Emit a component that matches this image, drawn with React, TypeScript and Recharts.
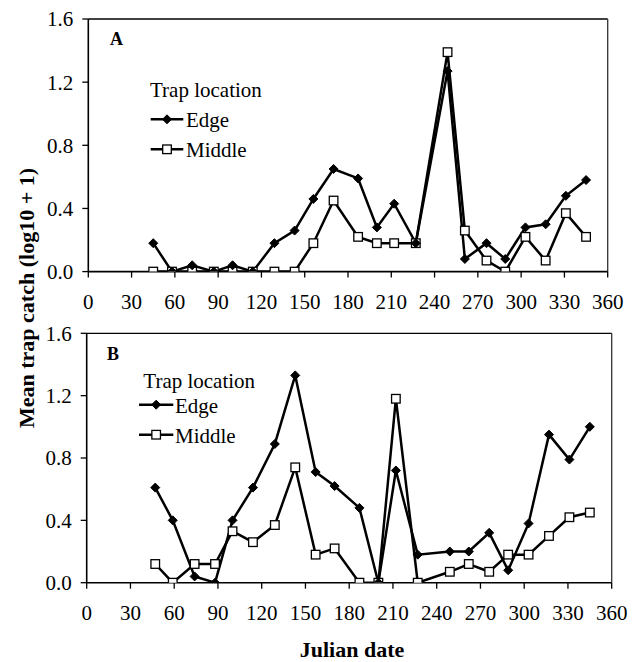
import React from "react";
import { LineChart, Line, XAxis, YAxis, ReferenceLine, Legend } from "recharts";

const daysA = [45, 58, 72, 87, 100, 114, 129, 143, 156, 170, 187, 200, 212, 227, 249, 261, 276, 289, 303, 317, 331, 345];
const edgeA = [0.18, 0, 0.04, 0, 0.04, 0, 0.18, 0.26, 0.46, 0.65, 0.59, 0.28, 0.43, 0.18, 1.27, 0.08, 0.18, 0.08, 0.28, 0.3, 0.48, 0.58];
const middleA = [0, 0, 0, 0, 0, 0, 0, 0, 0.18, 0.45, 0.22, 0.18, 0.18, 0.18, 1.39, 0.26, 0.07, 0, 0.22, 0.07, 0.37, 0.22];

const daysB = [47, 59, 74, 88, 100, 114, 129, 143, 157, 170, 187, 200, 212, 227, 249, 262, 276, 289, 303, 317, 331, 345];
const edgeB = [0.61, 0.4, 0.04, 0, 0.4, 0.61, 0.89, 1.33, 0.71, 0.62, 0.48, 0, 0.72, 0.18, 0.2, 0.2, 0.32, 0.08, 0.38, 0.95, 0.79, 1.0];
const middleB = [0.12, 0, 0.12, 0.12, 0.33, 0.26, 0.37, 0.74, 0.18, 0.22, 0, 0, 1.18, 0, 0.07, 0.12, 0.07, 0.18, 0.18, 0.3, 0.42, 0.45];

const xTicks = [0, 30, 60, 90, 120, 150, 180, 210, 240, 270, 300, 330, 360];
const yTicks = [0, 0.4, 0.8, 1.2, 1.6];
const seriesNames = ["Edge", "Middle"];
const legendTitle = "Trap location";
const yTitle = "Mean trap catch (log10 + 1)";
const xTitle = "Julian date";

const FONT = "'Liberation Serif', 'Times New Roman', serif";

const build = (days: number[], e: number[], m: number[]) =>
  days.map((d, i) => ({ day: d, edge: e[i], middle: m[i] }));

const Diamond = (props: any) => {
  const { cx, cy, index } = props;
  if (cx == null || cy == null) return <g key={index} />;
  const r = 4.5;
  return (
    <path
      key={`d${index}`}
      d={`M${cx},${cy - r}L${cx + r},${cy}L${cx},${cy + r}L${cx - r},${cy}Z`}
      fill="#000"
      stroke="#000"
    />
  );
};

const Square = (props: any) => {
  const { cx, cy, index } = props;
  if (cx == null || cy == null) return <g key={index} />;
  const r = 4.3;
  return (
    <rect
      key={`s${index}`}
      x={cx - r}
      y={cy - r}
      width={2 * r}
      height={2 * r}
      fill="#fff"
      stroke="#000"
      strokeWidth={1.3}
    />
  );
};

const LegendBox = ({ titleX, titleY, lineX1, lineX2, textX, edgeY, middleY }: any) => (
  <svg width={170} height={100} style={{ overflow: "visible", display: "block" }}>
    <text x={titleX} y={titleY} fontFamily={FONT} fontSize={21} fill="#000">
      {legendTitle}
    </text>
    <line x1={lineX1} x2={lineX2} y1={edgeY} y2={edgeY} stroke="#000" strokeWidth={2.5} />
    <Diamond cx={(lineX1 + lineX2) / 2} cy={edgeY} index={0} />
    <text x={textX} y={edgeY + 8} fontFamily={FONT} fontSize={21} fill="#000">
      {seriesNames[0]}
    </text>
    <line x1={lineX1} x2={lineX2} y1={middleY} y2={middleY} stroke="#000" strokeWidth={2.5} />
    <Square cx={(lineX1 + lineX2) / 2} cy={middleY} index={0} />
    <text x={textX} y={middleY + 8} fontFamily={FONT} fontSize={21} fill="#000">
      {seriesNames[1]}
    </text>
  </svg>
);

const tickStyle = { fontFamily: FONT, fontSize: 21, fill: "#000" };

const Panel = ({ data, margin, height, legendPos, legendProps, label, labelPos }: any) => (
  <LineChart width={639} height={height} data={data} margin={margin}>
    <XAxis
      dataKey="day"
      type="number"
      domain={[0, 360]}
      ticks={xTicks}
      interval={0}
      tick={tickStyle}
      tickSize={6}
      tickMargin={16}
      height={45}
      axisLine={{ stroke: "#000", strokeWidth: 1.6 }}
      tickLine={{ stroke: "#000", strokeWidth: 1.3 }}
      allowDataOverflow
    />
    <YAxis
      type="number"
      domain={[0, 1.6]}
      ticks={yTicks}
      interval={0}
      tick={tickStyle}
      tickFormatter={(v: number) => v.toFixed(1)}
      tickSize={6}
      tickMargin={9}
      width={60}
      axisLine={{ stroke: "#000", strokeWidth: 1.6 }}
      tickLine={{ stroke: "#000", strokeWidth: 1.3 }}
      allowDataOverflow
    />
    <ReferenceLine y={1.6} stroke="#000" strokeWidth={1.3} ifOverflow="extendDomain" />
    <ReferenceLine x={360} stroke="#333" strokeWidth={1.3} ifOverflow="extendDomain" />
    <Line
      dataKey="middle"
      name={seriesNames[1]}
      stroke="#000"
      strokeWidth={2.5}
      dot={Square}
      isAnimationActive={false}
    />
    <Line
      dataKey="edge"
      name={seriesNames[0]}
      stroke="#000"
      strokeWidth={2.5}
      dot={Diamond}
      isAnimationActive={false}
    />
    <Legend
      layout="horizontal"
      verticalAlign="middle"
      align="center"
      content={() => <LegendBox {...legendProps} />}
      wrapperStyle={{ position: "absolute", left: legendPos.left, top: legendPos.top, width: 170, height: 100 }}
    />
    <text x={labelPos.x} y={labelPos.y} fontFamily={FONT} fontSize={18} fontWeight="bold" fill="#000">
      {label}
    </text>
  </LineChart>
);

export default function App() {
  const dataA = build(daysA, edgeA, middleA);
  const dataB = build(daysB, edgeB, middleB);
  return (
    <div style={{ position: "absolute", left: 0, top: 0, width: 639, height: 662, background: "#fff" }}>
      <div style={{ position: "absolute", left: 0, top: 0 }}>
        <Panel
          data={dataA}
          height={330}
          margin={{ top: 19, right: 31.3, bottom: 13.4, left: 28.3 }}
          legendPos={{ left: 148, top: 75 }}
          legendProps={{ titleX: 2, titleY: 22, lineX1: 2.7, lineX2: 35.3, textX: 38, edgeY: 44.3, middleY: 74.3 }}
          label="A"
          labelPos={{ x: 110, y: 45 }}
        />
      </div>
      <div style={{ position: "absolute", left: 0, top: 320 }}>
        <Panel
          data={dataB}
          height={310}
          margin={{ top: 13.3, right: 27.3, bottom: 2.3, left: 26.7 }}
          legendPos={{ left: 137, top: 46.3 }}
          legendProps={{ titleX: 6.3, titleY: 22, lineX1: 2, lineX2: 36.3, textX: 38, edgeY: 38.7, middleY: 68.7 }}
          label="B"
          labelPos={{ x: 107, y: 40 }}
        />
      </div>
      <svg
        width={639}
        height={662}
        style={{ position: "absolute", left: 0, top: 0, pointerEvents: "none" }}
      >
        <text
          x={0}
          y={0}
          transform="translate(34,298) rotate(-90)"
          textAnchor="middle"
          fontFamily={FONT}
          fontSize={22}
          fontWeight="bold"
          fill="#000"
        >
          {yTitle}
        </text>
        <text x={352} y={657} textAnchor="middle" fontFamily={FONT} fontSize={22} fontWeight="bold" fill="#000">
          {xTitle}
        </text>
      </svg>
    </div>
  );
}
